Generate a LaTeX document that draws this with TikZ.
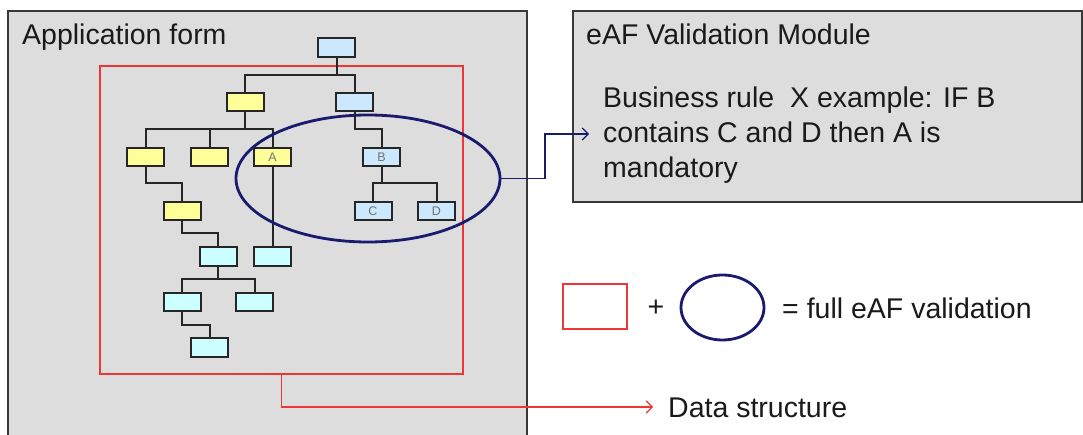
\documentclass[tikz,border=0pt]{standalone}
\usepackage{fontspec}
\setmainfont{Liberation Sans}
\usetikzlibrary{shapes.geometric,arrows.meta}
\definecolor{panelgray}{HTML}{DDDDDD}
\definecolor{edgegray}{HTML}{383838}
\definecolor{treeyellow}{HTML}{FFFF99}
\definecolor{treeblue}{HTML}{CCE8FF}
\definecolor{treecyan}{HTML}{CCFFFF}
\definecolor{navyline}{HTML}{1A1A6E}
\definecolor{redline}{HTML}{F03535}
\definecolor{textdark}{HTML}{1A1A1A}
\begin{document}
\begin{tikzpicture}[x=1pt,y=-1pt,
  panel/.style={draw=edgegray,fill=panelgray,line width=1.5pt},
  tbox/.style={draw=black!85,line width=2pt,minimum width=37pt,minimum height=18.5pt,
    inner sep=0pt,outer sep=0pt,font=\fontsize{12.5}{12.5}\selectfont,text=black!55},
  yb/.style={tbox,fill=treeyellow},
  bb/.style={tbox,fill=treeblue},
  cb/.style={tbox,fill=treecyan},
  link/.style={draw=black!85,line width=2pt},
  bigtext/.style={font=\fontsize{28.5}{34}\selectfont,text=textdark,inner sep=0pt,anchor=base west},
  redbox/.style={draw=redline,line width=1.6pt,inner sep=0pt,outer sep=0pt},
  navyell/.style={ellipse,draw=navyline,line width=2.8pt,inner sep=0pt,outer sep=0pt},
  barb/.style={-{Straight Barb[length=6pt,width=12pt,line width=1.2pt]}}
]
\useasboundingbox (0,0) rectangle (1083,435);
\fill[white] (0,0) rectangle (1083,435);

% panels
\draw[panel] (8,11) rectangle (527,450);
\draw[panel] (573,11) rectangle (1082,202);

\node[bigtext] (appl) at (22,45) {Application form};
\node[bigtext] (module) at (586,45) {eAF Validation Module};
\node[bigtext] (rule1) at (603,108) {Business rule\ \ X example: IF B};
\node[bigtext] (rule2) at (603,143) {contains C and D then A is};
\node[bigtext] (rule3) at (603,178) {mandatory};

% data structure frame
\node[redbox,minimum width=363pt,minimum height=308pt] (ds) at (281.5,220) {};

% tree nodes
\node[bb] (root) at (336.5,47.5) {};
\node[yb] (y1) at (245,102) {};
\node[bb] (b1) at (354.5,102) {};
\node[yb] (y2a) at (145.5,157) {};
\node[yb] (y2b) at (209.5,157) {};
\node[yb] (na) at (272.5,157) {A};
\node[bb] (nb) at (381.5,157) {B};
\node[bb] (nc) at (373,211) {C};
\node[bb] (nd) at (436.5,211) {D};
\node[yb] (y3) at (182,211) {};
\node[cb] (c1) at (218,256.5) {};
\node[cb] (a2) at (272.5,256.5) {};
\node[cb] (c2a) at (182,302) {};
\node[cb] (c2b) at (254.5,302) {};
\node[cb] (c3) at (209.5,347.5) {};

% tree links
\draw[link] (root.south) -- ++(0,18) -| (y1.north);
\draw[link] (root.south) -- ++(0,18) -| (b1.north);
\draw[link] (y1.south) -- ++(0,18) -| (y2a.north);
\draw[link] (y1.south) -- ++(0,18) -| (y2b.north);
\draw[link] (y1.south) -- ++(0,18) -| (na.north);
\draw[link] (b1.south) -- ++(0,18) -| (nb.north);
\draw[link] (nb.south) -- ++(0,17) -| (nc.north);
\draw[link] (nb.south) -- ++(0,17) -| (nd.north);
\draw[link] (y2a.south) -- ++(0,17) -| (y3.north);
\draw[link] (y3.south) -- ++(0,13) -| (c1.north);
\draw[link] (na.south) -- (a2.north);
\draw[link] (c1.south) -- ++(0,13) -| (c2a.north);
\draw[link] (c1.south) -- ++(0,13) -| (c2b.north);
\draw[link] (c2a.south) -- ++(0,14) -| (c3.north);

% validation ellipse
\node[navyell,minimum width=264pt,minimum height=127pt] (rule) at (368,178.5) {};
\coordinate (ruletip) at (589,134);
\draw[navyline,line width=1.5pt,barb] (rule.east) -- ++(45,0) |- (ruletip);

% data structure arrow
\coordinate (dstip) at (653,407);
\draw[redline,line width=1.5pt,barb] (ds.south) |- (dstip);
\node[bigtext] (dstext) at (668,417) {Data structure};

% legend
\node[redbox,minimum width=64pt,minimum height=45pt] (legbox) at (595,306.5) {};
\node[font=\fontsize{28.5}{34}\selectfont,text=textdark,inner sep=0pt] (plus) at (656,308) {+};
\node[navyell,minimum width=83pt,minimum height=65pt] (legell) at (722.5,307.5) {};
\node[bigtext] (legtext) at (782,318) {= full eAF validation};
\end{tikzpicture}
\end{document}
